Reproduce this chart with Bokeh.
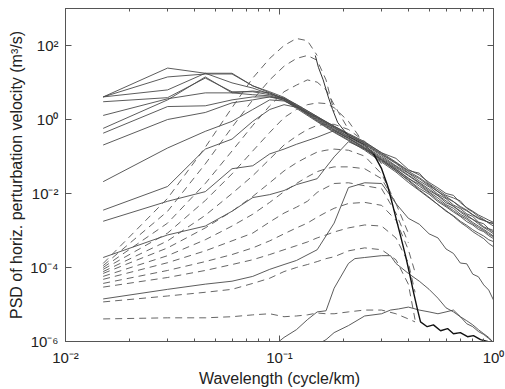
from bokeh.plotting import figure
from bokeh.models import FixedTicker, LogAxis, CustomJSTickFormatter, Range1d
from bokeh.embed import file_html
from bokeh.resources import INLINE

# ---------------- data (wavenumber in cycle/km, PSD values stored as log10) -------------
k_grid = [0.015, 0.03, 0.045, 0.06, 0.075, 0.09, 0.105, 0.12, 0.15, 0.18, 0.21, 0.25, 0.3,
          0.35, 0.4, 0.45, 0.5, 0.55, 0.6, 0.65, 0.7, 0.75, 0.8, 0.85, 0.9, 0.95, 1.0]

solid_a = [0.61, 1.39, 1.25, 1.25, 0.91, 0.75, 0.60, 0.40, 0.08, -0.20, -0.41, -0.64, -0.93, -1.17, -1.40, -1.57, -1.76, -1.95, -2.08, -2.22, -2.35, -2.45, -2.57, -2.66, -2.72, -2.78, -2.82]
solid_b = [0.61, 1.15, 1.23, 1.23, 0.91, 0.72, 0.55, 0.36, 0.02, -0.26, -0.47, -0.72, -1.02, -1.27, -1.50, -1.70, -1.88, -2.05, -2.20, -2.35, -2.47, -2.58, -2.70, -2.78, -2.90, -2.96, -3.05]
solid_c = [0.61, 0.80, 1.25, 0.99, 0.85, 0.69, 0.58, 0.41, 0.08, -0.18, -0.38, -0.60, -0.90, -1.05, -1.35, -1.50, -1.70, -1.85, -2.00, -2.05, -2.25, -2.38, -2.48, -2.58, -2.65, -2.72, -2.78]
solid_d = [0.48, 0.59, 1.12, 0.75, 0.75, 0.67, 0.55, 0.34, -0.02, -0.30, -0.52, -0.77, -1.08, -1.33, -1.60, -1.75, -1.96, -2.12, -2.30, -2.40, -2.56, -2.66, -2.78, -2.88, -2.97, -3.06, -3.15]
solid_e = [0.11, 0.56, 0.72, 0.72, 0.77, 0.72, 0.56, 0.37, 0.04, -0.23, -0.46, -0.68, -0.98, -1.25, -1.45, -1.66, -1.82, -2.02, -2.14, -2.31, -2.41, -2.55, -2.62, -2.77, -2.82, -2.95, -3.00]
solid_f = [-0.24, 0.53, 1.15, 0.72, 0.67, 0.64, 0.52, 0.33, -0.04, -0.33, -0.55, -0.80, -1.12, -1.38, -1.63, -1.86, -2.02, -2.22, -2.36, -2.50, -2.62, -2.76, -2.85, -2.97, -3.03, -3.14, -3.22]
solid_g = [-0.37, 0.35, 0.37, 0.53, 0.61, 0.61, 0.57, 0.38, 0.05, -0.22, -0.42, -0.66, -0.95, -1.19, -1.44, -1.60, -1.79, -1.95, -2.12, -2.22, -2.38, -2.47, -2.58, -2.68, -2.73, -2.78, -2.80]
solid_h = [-0.69, 0.00, 0.19, 0.45, 0.53, 0.61, 0.52, 0.30, -0.06, -0.35, -0.57, -0.83, -1.15, -1.42, -1.70, -1.92, -2.12, -2.30, -2.48, -2.60, -2.75, -2.86, -2.98, -3.07, -3.15, -3.25, -3.30]
solid_i = [-1.68, -0.77, -0.32, -0.05, 0.27, 0.53, 0.50, 0.34, 0.00, -0.28, -0.50, -0.75, -1.05, -1.30, -1.52, -1.72, -1.92, -2.06, -2.25, -2.34, -2.50, -2.62, -2.70, -2.82, -2.92, -3.00, -3.09]
solid_j = [-2.45, -1.81, -0.80, -0.53, -0.05, 0.27, 0.40, 0.33, 0.06, -0.18, -0.40, -0.62, -0.90, -1.15, -1.38, -1.45, -1.74, -1.90, -2.05, -2.12, -2.20, -2.40, -2.50, -2.62, -2.70, -2.80, -2.88]
solid_k = [-2.75, -2.21, -1.95, -1.33, -1.25, -0.93, -0.80, -0.67, -0.48, -0.30, -0.50, -0.78, -1.10, -1.38, -1.65, -1.90, -2.10, -2.30, -2.46, -2.62, -2.78, -2.90, -3.03, -3.13, -3.22, -3.35, -3.44]
solid_l = [-3.73, -3.12, -2.88, -2.48, -2.11, -2.03, -1.92, -1.76, -1.60, -1.01, -0.60, -0.80, -1.08, -1.35, -1.58, -1.80, -1.98, -2.18, -2.33, -2.46, -2.60, -2.70, -2.82, -2.92, -3.00, -3.10, -3.17]
solid_m = [-4.85, -4.59, -4.45, -4.37, -4.24, -4.05, -3.92, -3.81, -3.52, -2.80, -1.84, -1.71, -1.73, -2.27, -2.67, -2.83, -3.09, -3.20, -3.50, -3.62, -3.88, -3.90, -4.18, -4.25, -4.47, -4.61, -4.88]

k_n = [0.09, 0.105, 0.12, 0.135, 0.15, 0.165, 0.18, 0.21, 0.225, 0.25, 0.3, 0.33, 0.35,
       0.4, 0.45, 0.5, 0.55, 0.6, 0.65, 0.7, 0.75, 0.8, 0.85, 0.9, 0.95, 1.0]
solid_n = [-6.20, -5.89, -5.68, -5.41, -5.20, -5.17, -4.56, -3.89, -3.76, -3.73, -3.68, -3.68, -3.89,
           -4.16, -4.37, -4.59, -4.83, -5.09, -5.20, -5.33, -5.44, -5.55, -5.68, -5.79, -5.89, -6.03]

k_o = [0.15, 0.165, 0.18, 0.21, 0.25, 0.3, 0.33, 0.36, 0.4, 0.45, 0.5, 0.55, 0.6, 0.65,
       0.7, 0.75, 0.8, 0.85, 0.9, 0.95, 1.0]
solid_o = [-6.08, -5.95, -5.76, -5.57, -5.31, -5.25, -5.15, -5.12, -5.07, -5.15, -5.20, -5.25, -5.20, -5.15,
           -5.33, -5.52, -5.60, -5.73, -5.81, -5.92, -6.03]

# last spectrum: upper (overlapping) part and the dark steep fall-off
k_last_top = [0.147, 0.152, 0.16, 0.169, 0.177, 0.187, 0.21, 0.25, 0.275]
last_top = [1.73, 1.41, 1.07, 0.61, 0.27, -0.08, -0.45, -0.69, -0.93]
k_dark = [0.275, 0.3, 0.32, 0.341, 0.368, 0.388, 0.409, 0.423, 0.442, 0.456, 0.49, 0.524, 0.566,
          0.61, 0.65, 0.70, 0.756, 0.806, 0.87, 0.937, 1.0]
dark_line = [-0.93, -1.33, -1.79, -2.40, -3.15, -3.68, -4.27, -4.67, -5.15, -5.47, -5.60, -5.55, -5.71,
             -5.65, -5.79, -5.76, -5.87, -5.84, -5.95, -6.00, -6.05]

k_dash = [0.015, 0.03, 0.045, 0.06, 0.075, 0.09, 0.105, 0.12, 0.135, 0.15, 0.165, 0.18, 0.21,
          0.25, 0.3, 0.35, 0.4, 0.43]
dash_1 = [-3.89, -2.13, -0.75, 0.32, 1.12, 1.65, 2.00, 2.19, 2.13, 1.73]
dash_2 = [-3.95, -2.48, -1.20, -0.21, 0.53, 1.07, 1.44, 1.65, 1.73, 1.60, 1.07, 0.21]
dash_3 = [-4.00, -2.80, -1.73, -0.85, -0.16, 0.37, 0.75, 0.93, 1.07, 1.01, 0.80, 0.40, -0.27]
dash_4 = [-4.05, -3.07, -2.19, -1.47, -0.85, -0.35, 0.05, 0.27, 0.40, 0.45, 0.43, 0.32, -0.05, -0.67]
dash_5 = [-4.11, -3.28, -2.59, -2.00, -1.52, -1.07, -0.69, -0.45, -0.27, -0.16, -0.13, -0.13, -0.27, -0.59, -1.20]
dash_6 = [-4.16, -3.47, -2.93, -2.48, -2.08, -1.71, -1.39, -1.17, -1.01, -0.88, -0.83, -0.80, -0.83, -0.99, -1.47, -2.27]
dash_7 = [-4.24, -3.68, -3.25, -2.88, -2.56, -2.24, -1.95, -1.73, -1.55, -1.41, -1.33, -1.28, -1.28, -1.33, -1.60, -2.27, -3.07]
dash_8 = [-4.32, -3.87, -3.55, -3.28, -3.07, -2.77, -2.53, -2.37, -2.21, -1.97, -1.84, -1.73, -1.71, -1.79, -1.87, -2.53, -3.33]
dash_9 = [-4.43, -4.08, -3.84, -3.65, -3.47, -3.28, -3.09, -2.93, -2.80, -2.64, -2.51, -2.40, -2.27, -2.24, -2.32, -2.72, -3.52, -4.13]
dash_10 = [-4.53, -4.27, -4.08, -3.92, -3.79, -3.65, -3.52, -3.41, -3.31, -3.20, -3.12, -3.04, -2.93, -2.85, -2.88, -3.20, -3.87, -4.67]
dash_11 = [-4.93, -4.77, -4.67, -4.59, -4.43, -4.29, -4.11, -4.00, -3.92, -3.84, -3.76, -3.71, -3.55, -3.47, -3.52, -3.79, -4.45, -5.41]
dash_12 = [-5.39, -5.36, -5.36, -5.33, -5.28, -5.25, -5.33, -5.31, -5.28, -5.23, -5.25, -5.25, -5.20, -5.15, -5.15, -5.25, -5.39, -5.47]

x_major = [0.01, 0.1, 1.0]
x_minor = [0.02, 0.03, 0.04, 0.05, 0.06, 0.07, 0.08, 0.09, 0.2, 0.3, 0.4, 0.5, 0.6, 0.7, 0.8, 0.9]
y_major = [1e-6, 1e-4, 1e-2, 1.0, 1e2]

x_title = "Wavelength (cycle/km)"
y_title = "PSD of horiz. perturbation velocity (m\u00b3/s)"

# ---------------- figure ----------------
FONT = "Liberation Sans"
p = figure(width=505, height=389, x_axis_type="log", y_axis_type="log",
           x_range=Range1d(0.01, 1.0), y_range=Range1d(1e-6, 1e3),
           output_backend="svg", toolbar_location=None,
           min_border_left=65, min_border_right=12, min_border_top=8, min_border_bottom=44)
p.background_fill_color = "white"
p.border_fill_color = "white"
p.outline_line_color = "#555555"
p.grid.visible = False

def lin(vals):
    return [10 ** v for v in vals]

GRAY = "#4a4a4a"
solids = [solid_a, solid_b, solid_c, solid_d, solid_e, solid_f, solid_g, solid_h,
          solid_i, solid_j, solid_k, solid_l, solid_m]
for s in solids:
    p.line(k_grid, lin(s), line_color=GRAY, line_width=0.9)
p.line(k_n, lin(solid_n), line_color=GRAY, line_width=0.9)
p.line(k_o, lin(solid_o), line_color=GRAY, line_width=0.9)

dashes = [dash_1, dash_2, dash_3, dash_4, dash_5, dash_6, dash_7, dash_8, dash_9,
          dash_10, dash_11, dash_12]
for d in dashes:
    p.line(k_dash[:len(d)], lin(d), line_color="#555555", line_width=0.9, line_dash="7 5")

p.line(k_last_top, lin(last_top), line_color="#333333", line_width=1.0)
p.line(k_dark, lin(dark_line), line_color="#111111", line_width=1.4)

fmt = CustomJSTickFormatter(code="""
const e = Math.round(Math.log10(tick));
const sup = {'-':'\u207b','0':'\u2070','1':'\u00b9','2':'\u00b2','3':'\u00b3','4':'\u2074','5':'\u2075','6':'\u2076','7':'\u2077','8':'\u2078','9':'\u2079'};
return '10' + String(e).split('').map(c => sup[c]).join('');
""")

def style_axis(ax, major, minor, show_labels):
    ax.ticker = FixedTicker(ticks=major, minor_ticks=minor)
    ax.major_tick_in = 6
    ax.major_tick_out = 0
    ax.minor_tick_in = 3
    ax.minor_tick_out = 0
    ax.axis_line_color = "#555555"
    ax.major_tick_line_color = "#555555"
    ax.minor_tick_line_color = "#555555"
    if show_labels:
        ax.formatter = fmt
        ax.major_label_text_font = FONT
        ax.major_label_text_font_size = "15px"
        ax.major_label_text_color = "#222222"
        ax.axis_label_text_font = FONT
        ax.axis_label_text_font_size = "16px"
        ax.axis_label_text_font_style = "normal"
        ax.axis_label_text_color = "#222222"
    else:
        ax.major_label_text_font_size = "0px"
        ax.major_label_standoff = 0
        ax.major_label_text_alpha = 0

style_axis(p.xaxis[0], x_major, x_minor, True)
p.xaxis[0].axis_label = x_title
p.xaxis[0].major_label_standoff = 7
p.xaxis[0].axis_label_standoff = 1
style_axis(p.yaxis[0], y_major, [], True)
p.yaxis[0].axis_label = y_title
p.yaxis[0].major_label_standoff = 7
p.yaxis[0].axis_label_standoff = 2

top = LogAxis()
style_axis(top, x_major, x_minor, False)
p.add_layout(top, "above")
right = LogAxis()
style_axis(right, y_major, [], False)
p.add_layout(right, "right")

open("out.html", "w").write(file_html(p, INLINE))
